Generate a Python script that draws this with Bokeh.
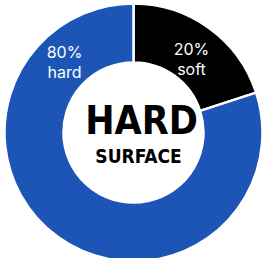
import numpy as np
from bokeh.plotting import figure
from bokeh.models import Range1d
from bokeh.core.properties import value
from bokeh.embed import file_html
from bokeh.resources import INLINE

# data
categories = ["soft", "hard"]
shares = [20, 80]
colors = ["#000000", "#1c55b6"]
label_lines = ["20%\nsoft", "80%\nhard"]
center_title = ["HARD", "SURFACE"]

W, H = 262, 258
cx, cy = 133, H - 132
r_in, r_out = 70, 129

p = figure(width=W, height=H, output_backend="svg", toolbar_location=None,
           x_range=Range1d(0, W), y_range=Range1d(0, H), min_border=0)
p.axis.visible = False
p.grid.visible = False
p.outline_line_color = None
p.background_fill_color = "white"
p.border_fill_color = "white"

frac = np.array(shares, dtype=float) / sum(shares)
cum = np.concatenate([[0], np.cumsum(frac)])
# clockwise from 12 o'clock
starts = [np.pi / 2 - 2 * np.pi * cum[i + 1] for i in range(len(shares))]
ends = [np.pi / 2 - 2 * np.pi * cum[i] for i in range(len(shares))]

p.annular_wedge(x=cx, y=cy, inner_radius=r_in, outer_radius=r_out,
                start_angle=starts, end_angle=ends, fill_color=colors,
                line_color="white", line_width=2.5)

# slice labels
lx = [191, 64]
ly = [H - 58, H - 61]
p.text(x=lx, y=ly, text=label_lines, text_color="white",
       text_font=value("Inter"), text_font_size="16px", text_font_style="normal",
       text_align="center", text_baseline="middle", text_line_height=1.0)

p.text(x=[141], y=[H - 120], text=[center_title[0]], text_color="black",
       text_font=value("DejaVu Sans Condensed"), text_font_size="39px",
       text_font_style="bold", text_align="center", text_baseline="middle")
p.text(x=[138], y=[H - 155], text=[center_title[1]], text_color="black",
       text_font=value("DejaVu Sans Condensed"), text_font_size="19px",
       text_font_style="bold", text_align="center", text_baseline="middle")

open("out.html", "w").write(file_html(p, INLINE))
